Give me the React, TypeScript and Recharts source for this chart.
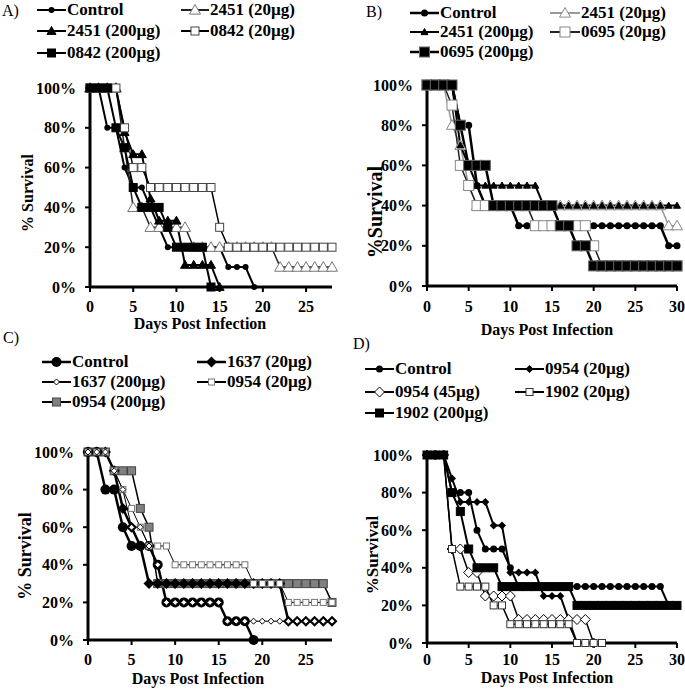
import React from 'react';
import { LineChart, Line, XAxis, YAxis } from 'recharts';

const FONT = '"Liberation Serif", "Times New Roman", serif';

// survival (%) by day, index = day post infection

// A)
const aControl = [100, 100, 80, 80, 60, 50, 50, 40, 30, 20, 20, 20, 20, 20, 20, 20, 10, 10, 10, 0];
const a2451Low = [100, 100, 100, 100, 70, 40, 40, 30, 30, 30, 30, 30, 20, 20, 20, 20, 20, 20, 20, 20, 20, 20, 10, 10, 10, 10, 10, 10, 10];
const a2451High = [100, 100, 100, 100, 77.8, 66.7, 66.7, 44.4, 33.3, 33.3, 33.3, 11.1, 11.1, 11.1, 11.1, 0];
const a0842Low = [100, 100, 100, 100, 80, 60, 60, 50, 50, 50, 50, 50, 50, 50, 50, 30, 20, 20, 20, 20, 20, 20, 20, 20, 20, 20, 20, 20, 20];
const a0842High = [100, 100, 100, 80, 70, 50, 40, 40, 40, 30, 20, 20, 20, 20, 0];

// B)
const bControl = [100, 100, 100, 100, 80, 80, 50, 40, 40, 40, 40, 30, 30, 30, 30, 30, 30, 30, 30, 30, 30, 30, 30, 30, 30, 30, 30, 30, 30, 20, 20];
const b2451Low = [100, 100, 100, 80, 70, 50, 40, 40, 40, 40, 40, 40, 40, 40, 40, 40, 40, 40, 40, 40, 40, 40, 40, 40, 40, 40, 40, 40, 40, 30, 30];
const b2451High = [100, 100, 100, 100, 70, 60, 50, 50, 50, 50, 50, 50, 50, 50, 40, 40, 40, 40, 40, 40, 40, 40, 40, 40, 40, 40, 40, 40, 40, 40, 40];
const b0695Low = [100, 100, 100, 90, 60, 50, 40, 40, 40, 40, 40, 40, 40, 30, 30, 30, 30, 30, 30, 30, 20, 10, 10, 10, 10, 10, 10, 10, 10, 10, 10];
const b0695High = [100, 100, 100, 100, 80, 60, 60, 60, 40, 40, 40, 40, 40, 40, 40, 40, 30, 30, 20, 20, 10, 10, 10, 10, 10, 10, 10, 10, 10, 10, 10];

// C)
const cControl = [100, 100, 80, 80, 60, 50, 50, 50, 40, 20, 20, 20, 20, 20, 20, 20, 10, 10, 10, 0];
const c1637Low = [100, 100, 100, 90, 70, 60, 50, 30, 30, 30, 30, 30, 30, 30, 30, 30, 30, 30, 30, 30, 30, 30, 30, 10, 10, 10, 10, 10, 10];
const c1637High = [100, 100, 100, 90, 80, 60, 60, 50, 40, 20, 20, 20, 20, 20, 20, 20, 10, 10, 10, 10, 10, 10, 10, 10, 10, 10, 10, 10, 10];
const c0954Low = [100, 100, 100, 90, 80, 70, 60, 50, 50, 50, 40, 40, 40, 40, 40, 40, 40, 40, 40, 30, 30, 30, 30, 20, 20, 20, 20, 20, 20];
const c0954High = [100, 100, 100, 90, 90, 90, 70, 60, 30, 30, 30, 30, 30, 30, 30, 30, 30, 30, 30, 30, 30, 30, 30, 30, 30, 30, 30, 30, 20];

// D)
const dControl = [100, 100, 100, 80, 80, 80, 60, 50, 50, 50, 40, 30, 30, 30, 30, 30, 30, 30, 30, 30, 30, 30, 30, 30, 30, 30, 30, 30, 30, 20, 20];
const d0954Low = [100, 100, 100, 87.5, 75, 75, 75, 75, 62.5, 62.5, 37.5, 37.5, 37.5, 37.5, 25, 25, 25, 12.5, 0];
const d0954Mid = [100, 100, 100, 50, 50, 37.5, 37.5, 25, 25, 25, 25, 12.5, 12.5, 12.5, 12.5, 12.5, 12.5, 12.5, 12.5, 12.5, 0];
const d1902Low = [100, 100, 100, 50, 30, 30, 30, 30, 20, 20, 10, 10, 10, 10, 10, 10, 10, 10, 0, 0, 0, 0];
const d1902High = [100, 100, 100, 80, 70, 50, 40, 40, 40, 30, 30, 30, 30, 30, 30, 30, 30, 30, 20, 20, 20, 20, 20, 20, 20, 20, 20, 20, 20, 20, 20];

const yTicks = [0, 20, 40, 60, 80, 100];
const xTicks28 = [0, 5, 10, 15, 20, 25];
const xTicks30 = [0, 5, 10, 15, 20, 25, 30];

type Shape = 'circle' | 'triangle' | 'square' | 'diamond';

interface SeriesDef {
  name: string;
  values: number[];
  shape: Shape;
  size: number;
  fill: string;
  stroke: string;
  sw: number;
  line: string;
  lineWidth: number;
}

interface PanelDef {
  letter: string;
  letterPos: [number, number];
  box: { left: number; top: number; width: number; height: number };
  plot: { x0: number; x1: number; y0: number; y1: number };
  xMax: number;
  xTicks: number[];
  xTickMargin: number;
  yTitle: string;
  yTitlePos: [number, number];
  yTitleSize: number;
  xTitlePos: [number, number];
  legendCols: [number, number, number, number]; // symbol x, text x for col 1 and col 2
  legendRows: number[];
  series: SeriesDef[];
  drawOrder: number[]; // which series is painted first (underneath)
}

function Marker({ cx, cy, shape, size, fill, stroke, sw }: {
  cx?: number | null; cy?: number | null; shape: Shape; size: number; fill: string; stroke: string; sw: number;
}) {
  if (cx == null || cy == null || isNaN(cx) || isNaN(cy)) return null;
  const h = size / 2;
  if (shape === 'circle') return <circle cx={cx} cy={cy} r={h} fill={fill} stroke={stroke} strokeWidth={sw} />;
  if (shape === 'square') return <rect x={cx - h} y={cy - h} width={size} height={size} fill={fill} stroke={stroke} strokeWidth={sw} />;
  if (shape === 'triangle') {
    return <polygon points={`${cx},${cy - h} ${cx + h},${cy + h * 0.75} ${cx - h},${cy + h * 0.75}`} fill={fill} stroke={stroke} strokeWidth={sw} />;
  }
  return <polygon points={`${cx},${cy - h} ${cx + h},${cy} ${cx},${cy + h} ${cx - h},${cy}`} fill={fill} stroke={stroke} strokeWidth={sw} />;
}

const panels: PanelDef[] = [
  {
    letter: 'A)', letterPos: [2, 11],
    box: { left: 0, top: 0, width: 340, height: 345 },
    plot: { x0: 90, x1: 332, y0: 88, y1: 287 },
    xMax: 28, xTicks: xTicks28, xTickMargin: 9,
    yTitle: '% Survival', yTitlePos: [27, 193], yTitleSize: 16,
    xTitlePos: [200, 323],
    legendCols: [37, 67, 181, 210], legendRows: [10, 31, 53],
    series: [
      { name: 'Control', values: aControl, shape: 'circle', size: 6, fill: '#000', stroke: '#000', sw: 0, line: '#000', lineWidth: 2 },
      { name: '2451 (20µg)', values: a2451Low, shape: 'triangle', size: 11, fill: '#fff', stroke: '#777', sw: 1, line: '#222', lineWidth: 1.5 },
      { name: '2451 (200µg)', values: a2451High, shape: 'triangle', size: 9, fill: '#000', stroke: '#000', sw: 1, line: '#000', lineWidth: 2 },
      { name: '0842 (20µg)', values: a0842Low, shape: 'square', size: 8, fill: '#fff', stroke: '#444', sw: 1, line: '#000', lineWidth: 1.5 },
      { name: '0842 (200µg)', values: a0842High, shape: 'square', size: 8, fill: '#000', stroke: '#000', sw: 1, line: '#000', lineWidth: 2 },
    ],
    drawOrder: [0, 1, 2, 3, 4],
  },
  {
    letter: 'B)', letterPos: [366, 12],
    box: { left: 340, top: 0, width: 345, height: 345 },
    plot: { x0: 427, x1: 677, y0: 85, y1: 286 },
    xMax: 30, xTicks: xTicks30, xTickMargin: 10,
    yTitle: '%Survival', yTitlePos: [375, 212], yTitleSize: 20,
    xTitlePos: [547, 329],
    legendCols: [410, 440, 550, 581], legendRows: [13, 32, 52],
    series: [
      { name: 'Control', values: bControl, shape: 'circle', size: 7, fill: '#000', stroke: '#000', sw: 0, line: '#000', lineWidth: 2.5 },
      { name: '2451 (20µg)', values: b2451Low, shape: 'triangle', size: 11, fill: '#fff', stroke: '#888', sw: 1, line: '#999', lineWidth: 1.5 },
      { name: '2451 (200µg)', values: b2451High, shape: 'triangle', size: 7, fill: '#000', stroke: '#000', sw: 1, line: '#000', lineWidth: 2 },
      { name: '0695 (20µg)', values: b0695Low, shape: 'square', size: 10, fill: '#fff', stroke: '#888', sw: 1, line: '#222', lineWidth: 1.5 },
      { name: '0695 (200µg)', values: b0695High, shape: 'square', size: 10, fill: '#000', stroke: '#666', sw: 1, line: '#000', lineWidth: 2.5 },
    ],
    drawOrder: [0, 1, 2, 3, 4],
  },
  {
    letter: 'C)', letterPos: [3, 338],
    box: { left: 0, top: 345, width: 340, height: 350 },
    plot: { x0: 88, x1: 332, y0: 452, y1: 640 },
    xMax: 28, xTicks: xTicks28, xTickMargin: 9,
    yTitle: '% Survival', yTitlePos: [25, 556], yTitleSize: 18,
    xTitlePos: [198, 678],
    legendCols: [42, 72, 197, 227], legendRows: [362, 382, 402],
    series: [
      { name: 'Control', values: cControl, shape: 'circle', size: 10, fill: '#000', stroke: '#000', sw: 0, line: '#000', lineWidth: 2.5 },
      { name: '1637 (20µg)', values: c1637Low, shape: 'diamond', size: 11, fill: '#000', stroke: '#000', sw: 0, line: '#000', lineWidth: 2.5 },
      { name: '1637 (200µg)', values: c1637High, shape: 'diamond', size: 6, fill: '#fff', stroke: '#000', sw: 1, line: '#000', lineWidth: 1 },
      { name: '0954 (20µg)', values: c0954Low, shape: 'square', size: 6, fill: '#fff', stroke: '#777', sw: 1, line: '#000', lineWidth: 1 },
      { name: '0954 (200µg)', values: c0954High, shape: 'square', size: 8, fill: '#808080', stroke: '#444', sw: 1, line: '#000', lineWidth: 1.5 },
    ],
    drawOrder: [4, 0, 1, 3, 2],
  },
  {
    letter: 'D)', letterPos: [353, 344],
    box: { left: 340, top: 345, width: 345, height: 350 },
    plot: { x0: 427, x1: 677, y0: 455, y1: 643 },
    xMax: 30, xTicks: xTicks30, xTickMargin: 6,
    yTitle: '%Survival', yTitlePos: [372, 555], yTitleSize: 17,
    xTitlePos: [547, 677],
    legendCols: [365, 395, 515, 545], legendRows: [369, 392, 413],
    series: [
      { name: 'Control', values: dControl, shape: 'circle', size: 7, fill: '#000', stroke: '#000', sw: 0, line: '#000', lineWidth: 2 },
      { name: '0954 (20µg)', values: d0954Low, shape: 'diamond', size: 8, fill: '#000', stroke: '#000', sw: 0, line: '#000', lineWidth: 2 },
      { name: '0954 (45µg)', values: d0954Mid, shape: 'diamond', size: 10, fill: '#fff', stroke: '#000', sw: 1, line: '#000', lineWidth: 1.5 },
      { name: '1902 (20µg)', values: d1902Low, shape: 'square', size: 7, fill: '#fff', stroke: '#333', sw: 1, line: '#000', lineWidth: 1.5 },
      { name: '1902 (200µg)', values: d1902High, shape: 'square', size: 8, fill: '#000', stroke: '#000', sw: 1, line: '#000', lineWidth: 2 },
    ],
    drawOrder: [0, 1, 2, 3, 4],
  },
];

const textStyle = { fontFamily: FONT, fontWeight: 'bold' as const, fill: '#000' };

function AxisTitle({ x, y, text, size, rotate }: { x: number; y: number; text: string; size: number; rotate?: boolean }) {
  return (
    <text
      x={x}
      y={y}
      textAnchor="middle"
      dominantBaseline="central"
      transform={rotate ? `rotate(-90 ${x} ${y})` : undefined}
      style={{ ...textStyle, fontSize: size }}
    >
      {text}
    </text>
  );
}

function XTick({ x, y, payload }: any) {
  return (
    <text x={x} y={y} dy="0.71em" textAnchor="middle" style={{ ...textStyle, fontSize: 16 }}>
      {payload.value}
    </text>
  );
}

function YTick({ x, y, payload }: any) {
  return (
    <text x={x} y={y} textAnchor="end" dominantBaseline="central" style={{ ...textStyle, fontSize: 16 }}>
      {`${payload.value}%`}
    </text>
  );
}

function Legend({ p }: { p: PanelDef }) {
  const [s1, t1, s2, t2] = p.legendCols;
  return (
    <>
      {p.series.map((s, i) => {
        const col = i % 2;
        const rowY = p.legendRows[Math.floor(i / 2)];
        const sx = col === 0 ? s1 : s2;
        const tx = col === 0 ? t1 : t2;
        const w = tx - sx - 1;
        return (
          <React.Fragment key={s.name}>
            <svg width={w} height={16} style={{ position: 'absolute', left: sx, top: rowY - 8 }}>
              <line x1={0} x2={w} y1={8} y2={8} stroke={s.line} strokeWidth={Math.max(s.lineWidth, 2)} />
              <Marker cx={w / 2} cy={8} shape={s.shape} size={s.size} fill={s.fill} stroke={s.stroke} sw={s.sw} />
            </svg>
            <span
              style={{
                position: 'absolute', left: tx, top: rowY - 9, lineHeight: '18px',
                fontFamily: FONT, fontWeight: 'bold', fontSize: 17, whiteSpace: 'nowrap', color: '#000',
              }}
            >
              {s.name}
            </span>
          </React.Fragment>
        );
      })}
    </>
  );
}

function Panel({ p }: { p: PanelDef }) {
  const { box, plot } = p;
  const len = Math.max(...p.series.map(s => s.values.length));
  const rows = Array.from({ length: len }, (_, day) => {
    const row: Record<string, number | null> = { day };
    p.series.forEach((s, i) => {
      row[`s${i}`] = day < s.values.length ? s.values[day] : null;
    });
    return row;
  });
  const xAxisH = 30;
  const margin = {
    top: plot.y0 - box.top,
    right: box.left + box.width - plot.x1,
    left: 0,
    bottom: box.top + box.height - plot.y1 - xAxisH,
  };
  const [ytx, yty] = p.yTitlePos;
  const [xtx, xty] = p.xTitlePos;

  return (
    <>
      <div
        style={{
          position: 'absolute', left: p.letterPos[0], top: p.letterPos[1] - 9, lineHeight: '18px',
          fontFamily: FONT, fontSize: 16, color: '#000',
        }}
      >
        {p.letter}
      </div>
      <Legend p={p} />
      <div style={{ position: 'absolute', left: box.left, top: box.top }}>
        <LineChart width={box.width} height={box.height} data={rows} margin={margin}>
          <XAxis
            dataKey="day"
            type="number"
            domain={[0, p.xMax]}
            ticks={p.xTicks}
            height={xAxisH}
            tick={XTick}
            tickSize={5}
            tickMargin={p.xTickMargin}
            axisLine={{ stroke: '#000', strokeWidth: 3 }}
            tickLine={{ stroke: '#000', strokeWidth: 2 }}
            label={() => <AxisTitle x={xtx - box.left} y={xty - box.top} text="Days Post Infection" size={16} />}
          />
          <YAxis
            type="number"
            domain={[0, 100]}
            ticks={yTicks}
            width={plot.x0 - box.left}
            tick={YTick}
            tickSize={5}
            tickMargin={9}
            axisLine={{ stroke: '#000', strokeWidth: 3 }}
            tickLine={{ stroke: '#000', strokeWidth: 2 }}
            label={() => <AxisTitle x={ytx - box.left} y={yty - box.top} text={p.yTitle} size={p.yTitleSize} rotate />}
          />
          {p.drawOrder.map(i => {
            const s = p.series[i];
            return (
              <Line
                key={s.name}
                dataKey={`s${i}`}
                name={s.name}
                type="linear"
                stroke={s.line}
                strokeWidth={s.lineWidth}
                isAnimationActive={false}
                dot={(d: any) => (
                  <Marker
                    key={`${s.name}-${d.index}`}
                    cx={d.cx}
                    cy={d.cy}
                    shape={s.shape}
                    size={s.size}
                    fill={s.fill}
                    stroke={s.stroke}
                    sw={s.sw}
                  />
                )}
                activeDot={false}
              />
            );
          })}
        </LineChart>
      </div>
    </>
  );
}

export default function App() {
  return (
    <div style={{ position: 'absolute', left: 0, top: 0, width: 685, height: 695, background: '#fff', overflow: 'hidden' }}>
      {panels.map(p => <Panel key={p.letter} p={p} />)}
    </div>
  );
}
